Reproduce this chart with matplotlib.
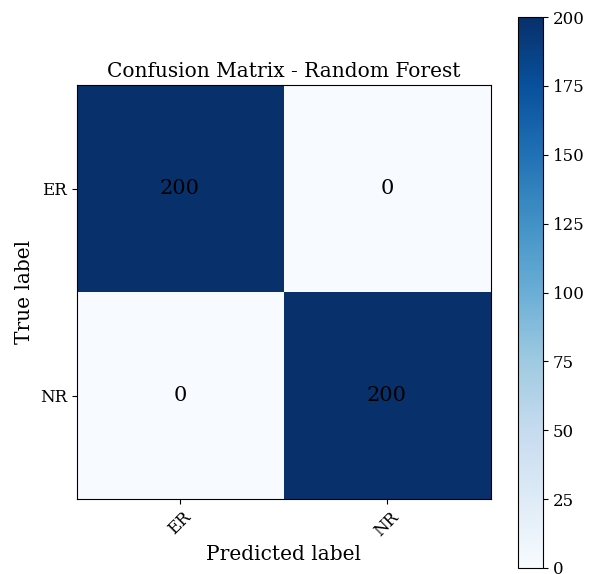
import numpy as np
import matplotlib
matplotlib.use('Agg')
from matplotlib import pyplot as plt

plt.rcParams['font.family'] = 'DejaVu Serif'

classes = ['ER', 'NR']
cm = np.array([[200, 0],
               [0, 200]])
title = 'Confusion Matrix - Random Forest'

fig = plt.figure(figsize=(5.89, 5.74), dpi=100)
ax = fig.add_axes([76/589, 1 - 499/574, 415/589, 414/574])
cax = fig.add_axes([518/589, 1 - 568/574, 25/589, 551/574])

im = ax.imshow(cm, interpolation='nearest', cmap=plt.cm.Blues, vmin=0, vmax=200)
ax.set_title(title, fontsize=14.5)
cb = fig.colorbar(im, cax=cax)
cb.ax.tick_params(labelsize=12)

ticks = np.arange(len(classes))
ax.set_xticks(ticks)
ax.set_xticklabels(classes, rotation=45, fontsize=12)
ax.set_yticks(ticks)
ax.set_yticklabels(classes, fontsize=12)

for i in range(cm.shape[0]):
    for j in range(cm.shape[1]):
        ax.text(j, i, format(cm[i, j], 'd'), ha='center', va='center',
                color='black', fontsize=15)

ax.set_ylabel('True label', fontsize=14.5)
ax.set_xlabel('Predicted label', fontsize=14.5)

fig.savefig('out.png', dpi=100)
